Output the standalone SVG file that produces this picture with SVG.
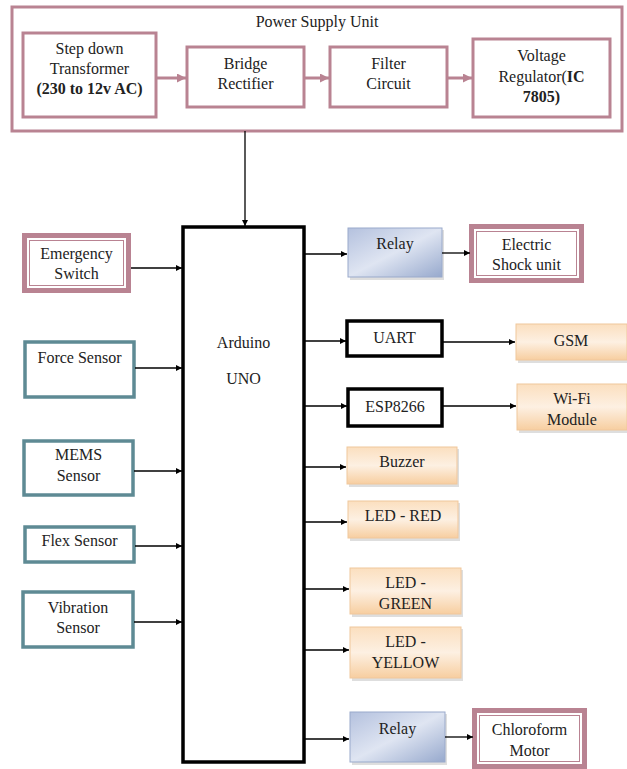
<svg xmlns="http://www.w3.org/2000/svg" width="627" height="769" viewBox="0 0 627 769" font-family="Liberation Serif, Times New Roman, serif">
<style>
text{font-size:16px;fill:#222;text-anchor:middle}
.b{font-weight:bold}
.psu{fill:#fff;stroke:#b98392;stroke-width:3}
.pink{fill:#fff;stroke:#b98392;stroke-width:5}
.pinkin{fill:none;stroke:#b98392;stroke-width:1}
.teal{fill:#fff;stroke:#5e8a94;stroke-width:3.5}
.blk{fill:#fff;stroke:#000;stroke-width:3.5}
.orange{fill:url(#og);stroke:#f0c79c;stroke-width:1}
.blue{fill:url(#bg);stroke:#9aaacb;stroke-width:1}
.shadow{fill:#c8c8c8;opacity:0.6}
.c{stroke:#000;stroke-width:1.3;fill:none;marker-end:url(#ah)}
.pc{stroke:#b98392;stroke-width:3;fill:none;marker-end:url(#pah)}
</style>
<defs>
<marker id="ah" viewBox="0 0 10 10" refX="10" refY="5" markerWidth="6" markerHeight="6" markerUnits="userSpaceOnUse" orient="auto"><path d="M0,0 L10,5 L0,10 z" fill="#000"/></marker>
<marker id="pah" viewBox="0 0 10 10" refX="10" refY="5" markerWidth="9" markerHeight="9" markerUnits="userSpaceOnUse" orient="auto"><path d="M0,0 L10,5 L0,10 z" fill="#b98392"/></marker>
<linearGradient id="og" x1="0" y1="0" x2="0" y2="1"><stop offset="0" stop-color="#fbdfbf"/><stop offset="0.5" stop-color="#fdf0e2"/><stop offset="1" stop-color="#f7cea0"/></linearGradient>
<linearGradient id="bg" x1="0" y1="0" x2="1" y2="1"><stop offset="0" stop-color="#b4c1de"/><stop offset="0.5" stop-color="#dfe5f2"/><stop offset="1" stop-color="#97a9cd"/></linearGradient>
</defs>

<g id="psu">
<rect class="psu" x="12" y="7" width="610" height="124"/>
<text x="317" y="27">Power Supply Unit</text>
</g>
<g id="stepdown">
<rect class="psu" x="23" y="33" width="133" height="84"/>
<text x="89.5" y="54">Step down</text>
<text x="89.5" y="74">Transformer</text>
<text x="89.5" y="94" class="b">(230 to 12v AC)</text>
</g>
<g id="bridge">
<rect class="psu" x="187" y="47" width="117" height="60"/>
<text x="245.5" y="69">Bridge</text>
<text x="245.5" y="89">Rectifier</text>
</g>
<g id="filter">
<rect class="psu" x="330" y="47" width="117" height="60"/>
<text x="388.5" y="69">Filter</text>
<text x="388.5" y="89">Circuit</text>
</g>
<g id="regulator">
<rect class="psu" x="473" y="39" width="137" height="78"/>
<text x="541.5" y="61">Voltage</text>
<text x="541.5" y="82">Regulator(<tspan class="b">IC</tspan></text>
<text x="541.5" y="102" class="b">7805)</text>
</g>

<g id="arduino">
<rect class="blk" x="183" y="227" width="121" height="535"/>
<text x="243.5" y="348">Arduino</text>
<text x="243.5" y="384">UNO</text>
</g>

<g id="emergency">
<rect class="pink" x="24.5" y="235.5" width="104" height="55"/>
<rect class="pinkin" x="29.5" y="240.5" width="94" height="45"/>
<text x="76.5" y="259">Emergency</text>
<text x="76.5" y="279">Switch</text>
</g>
<g id="force">
<rect class="teal" x="25" y="342" width="109" height="55"/>
<text x="79.5" y="363">Force Sensor</text>
</g>
<g id="mems">
<rect class="teal" x="24" y="441" width="109" height="54"/>
<text x="78.5" y="460">MEMS</text>
<text x="78.5" y="481">Sensor</text>
</g>
<g id="flex">
<rect class="teal" x="25" y="527" width="109" height="35"/>
<text x="79.5" y="546">Flex Sensor</text>
</g>
<g id="vibration">
<rect class="teal" x="23" y="592" width="110" height="55"/>
<text x="78" y="613">Vibration</text>
<text x="78" y="633">Sensor</text>
</g>

<g id="relay1">
<rect class="shadow" x="350" y="230" width="94" height="50"/>
<rect class="blue" x="348" y="228" width="94" height="49"/>
<text x="395" y="249">Relay</text>
</g>
<g id="shock">
<rect class="pink" x="471.5" y="226.5" width="110" height="54"/>
<rect class="pinkin" x="476.5" y="231.5" width="100" height="44"/>
<text x="526.5" y="250">Electric</text>
<text x="526.5" y="270">Shock unit</text>
</g>
<g id="uart">
<rect class="blk" x="347" y="321" width="95" height="35"/>
<text x="394.5" y="343">UART</text>
</g>
<g id="gsm">
<rect class="shadow" x="518" y="326" width="110" height="37"/>
<rect class="orange" x="516" y="324" width="111" height="36"/>
<text x="571" y="346">GSM</text>
</g>
<g id="esp">
<rect class="blk" x="348" y="389" width="94" height="37"/>
<text x="395" y="412">ESP8266</text>
</g>
<g id="wifi">
<rect class="shadow" x="519" y="386" width="110" height="47"/>
<rect class="orange" x="517" y="384" width="110" height="46"/>
<text x="572" y="404">Wi-Fi</text>
<text x="572" y="425">Module</text>
</g>
<g id="buzzer">
<rect class="shadow" x="349" y="449" width="110" height="38"/>
<rect class="orange" x="347" y="447" width="110" height="37"/>
<text x="402" y="467">Buzzer</text>
</g>
<g id="ledred">
<rect class="shadow" x="350" y="503" width="110" height="38"/>
<rect class="orange" x="348" y="501" width="110" height="37"/>
<text x="403" y="521">LED - RED</text>
</g>
<g id="ledgreen">
<rect class="shadow" x="352" y="570" width="111" height="47"/>
<rect class="orange" x="350" y="568" width="111" height="46"/>
<text x="405.5" y="588">LED -</text>
<text x="405.5" y="609">GREEN</text>
</g>
<g id="ledyellow">
<rect class="shadow" x="352" y="629" width="111" height="52"/>
<rect class="orange" x="350" y="627" width="111" height="51"/>
<text x="405.5" y="647">LED -</text>
<text x="405.5" y="668">YELLOW</text>
</g>
<g id="relay2">
<rect class="shadow" x="352" y="714" width="95" height="51"/>
<rect class="blue" x="350" y="712" width="95" height="50"/>
<text x="397.5" y="734">Relay</text>
</g>
<g id="chloroform">
<rect class="pink" x="474.5" y="710.5" width="110" height="56"/>
<rect class="pinkin" x="479.5" y="715.5" width="100" height="46"/>
<text x="529.5" y="735">Chloroform</text>
<text x="529.5" y="756">Motor</text>
</g>

<g id="connectors">
<path class="pc" d="M156,78 H186"/>
<path class="pc" d="M304,78 H329"/>
<path class="pc" d="M447,78 H472"/>
<path class="c" d="M245,131 V226"/>
<path class="c" d="M131,268 H182"/>
<path class="c" d="M135,368 H182"/>
<path class="c" d="M134,471 H182"/>
<path class="c" d="M135,546 H182"/>
<path class="c" d="M134,622 H182"/>
<path class="c" d="M305,254 H347"/>
<path class="c" d="M442,253 H470"/>
<path class="c" d="M305,341 H346"/>
<path class="c" d="M443,342 H515"/>
<path class="c" d="M305,406 H347"/>
<path class="c" d="M443,406 H516"/>
<path class="c" d="M305,467 H346"/>
<path class="c" d="M305,522 H347"/>
<path class="c" d="M305,589 H349"/>
<path class="c" d="M305,650 H349"/>
<path class="c" d="M305,739 H349"/>
<path class="c" d="M445,737 H473"/>
</g>
</svg>
